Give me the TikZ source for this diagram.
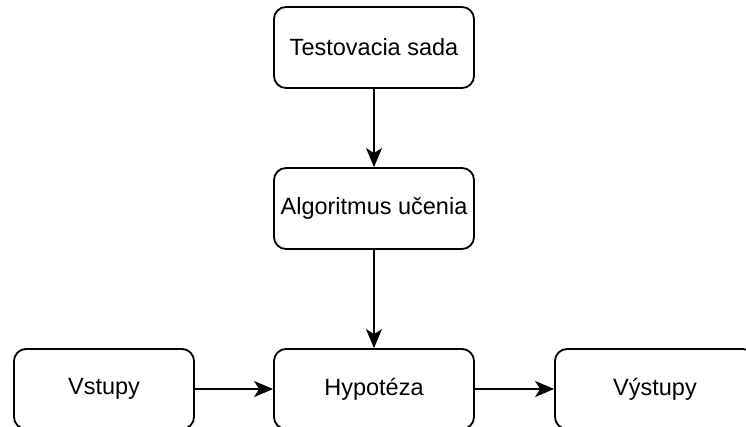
\documentclass[tikz,border=0pt]{standalone}
\usepackage{fontspec}
\setmainfont{Liberation Sans}
\usetikzlibrary{arrows.meta}
\begin{document}
\begin{tikzpicture}[x=1pt,y=-1pt,
  box/.style={draw=black, line width=1.8pt, rounded corners=12pt, fill=white,
    minimum height=81pt, inner sep=0pt, font=\fontsize{23.5}{28}\selectfont},
  wide/.style={minimum width=200pt},
  narrow/.style={minimum width=180pt},
  link/.style={draw=black, line width=1.8pt,
    -{Stealth[length=19pt,width=16pt,inset=5pt]}}]
  \useasboundingbox (0,0) rectangle (746,427);
  \clip (0,0) rectangle (746,427);
  \node[box,wide] (train) at (374,47.5) {Testovacia sada};
  \node[box,wide] (algo) at (374,208.5) {Algoritmus učenia};
  \node[box,wide,minimum height=80pt] (hyp) at (374,389) {Hypotéza};
  \node[box,narrow,minimum height=80pt] (in) at (104,389) {Vstupy};
  \node[box,wide,minimum height=80pt] (out) at (655,389) {Výstupy};
  \draw[link] (train) -- (algo);
  \draw[link] (algo) -- (hyp);
  \draw[link] (in) -- (hyp);
  \draw[link] (hyp) -- (out);
\end{tikzpicture}
\end{document}
